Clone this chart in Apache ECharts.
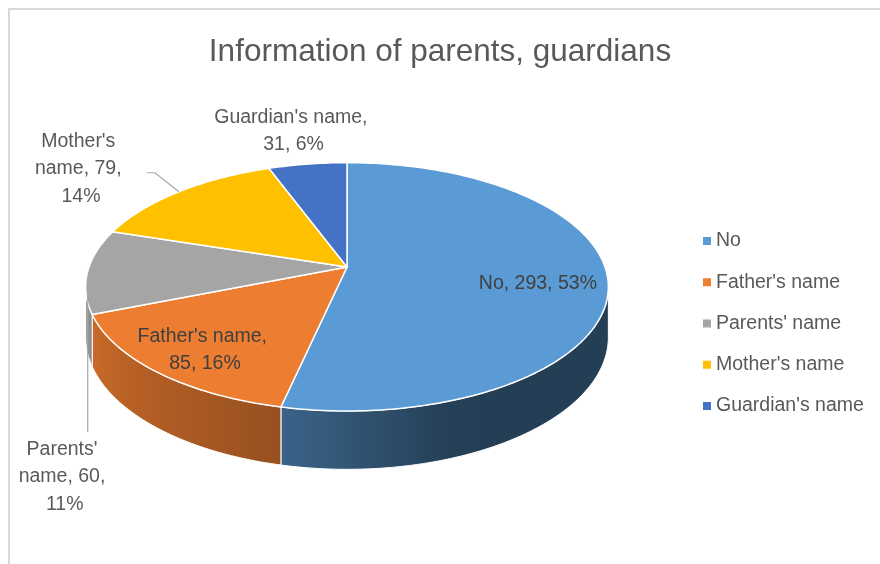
<!DOCTYPE html>
<html lang="en">
<head>
    <meta charset="UTF-8">
    <title>Information of parents, guardians</title>
    <style>
        html, body {
            margin: 0;
            padding: 0;
            background: #fff;
        }

        #main {
            width: 880px;
            height: 564px;
        }
    </style>
</head>
<body>
<div id="main"></div>
<script src="https://cdn.jsdelivr.net/npm/echarts@6/dist/echarts.min.js"></script>
<script>

    var names = ['No', "Father's name", "Parents' name", "Mother's name", "Guardian's name"];
    var values = [293, 85, 60, 79, 31];
    var colors = ['#5b9bd5', '#ed7d31', '#a5a5a5', '#ffc000', '#4472c4'];

    var FONT = '"Liberation Sans", Arial, sans-serif';

    // pie geometry (a tilted disk seen in perspective, like Excel's 3-D pie)
    var CX = 347, CY = 267;
    var RX = 258;      // horizontal radius
    var RY = 121;      // vertical radius
    var DIST = 6.26;   // camera distance in radii
    var DEPTH = 49;    // thickness of the disk
    var EDGE = Math.acos(-1 / DIST) * 180 / Math.PI; // where the side wall becomes visible

    // how much the side wall is darkened, by angle
    var shadeStops = [[0, 0.40], [160, 0.40], [192, 0.64], [248, 0.85], [270, 0.88], [360, 0.88]];

    // outside labels: where the text sits relative to the slice edge, and the leader line
    var outsideLabels = {
        2: {onWall: true, dx: -23, dy: 181, width: 100, leader: [[0, 0], [0, 136]]},
        3: {onWall: false, dx: -98, dy: -23, width: 100, leader: [[0, 0], [-24, -19], [-32, -19]]},
        4: {onWall: false, dx: -14, dy: -33, width: 165, leader: null}
    };

    var total = values.reduce(function (a, b) {
        return a + b;
    }, 0);
    var starts = [];
    var acc = 0;
    values.forEach(function (v) {
        starts.push(acc / total * 360);
        acc += v;
    });

    var proj = function (deg, r, down) {
        var t = deg * Math.PI / 180;
        var z = -r * Math.cos(t);
        var p = DIST / (DIST - z);
        return [CX + r * RX * Math.sin(t) * p, CY + RY * z * p + (down || 0) * p];
    };

    var shade = function (deg) {
        for (var i = 1; i < shadeStops.length; i++) {
            if (deg <= shadeStops[i][0]) {
                var a = shadeStops[i - 1], b = shadeStops[i];
                return a[1] + (b[1] - a[1]) * (deg - a[0]) / (b[0] - a[0]);
            }
        }
        return shadeStops[shadeStops.length - 1][1];
    };

    var darken = function (hex, f) {
        var c = echarts.color.parse(hex);
        return 'rgb(' + Math.round(c[0] * f) + ',' + Math.round(c[1] * f) + ',' + Math.round(c[2] * f) + ')';
    };

    var arc = function (a, b, r, down) {
        var pts = [];
        var n = Math.max(2, Math.ceil(b - a));
        for (var k = 0; k <= n; k++) {
            pts.push(proj(a + (b - a) * k / n, r, down));
        }
        return pts;
    };

    var makeRender = function (i) {
        return function (params, api) {
            var value = api.value(0);
            var a = starts[i];
            var b = a + value / total * 360;
            var color = colors[i];
            var children = [];

            // side wall, only the part that faces the viewer
            var wa = Math.max(a, EDGE), wb = Math.min(b, 360 - EDGE);
            if (wb > wa) {
                var topArc = arc(wa, wb, 1, 0);
                var botArc = arc(wa, wb, 1, DEPTH).reverse();
                var xs = topArc.map(function (p) {
                    return p[0];
                });
                var xMin = Math.min.apply(null, xs), xMax = Math.max.apply(null, xs);
                var stops = [];
                for (var k = 0; k <= 12; k++) {
                    var d = wa + (wb - wa) * k / 12;
                    var off = (proj(d, 1, 0)[0] - xMin) / (xMax - xMin || 1);
                    stops.push({offset: Math.min(1, Math.max(0, off)), color: darken(color, shade(d))});
                }
                stops.sort(function (s1, s2) {
                    return s1.offset - s2.offset;
                });
                children.push({
                    type: 'polygon',
                    z2: 1,
                    shape: {points: topArc.concat(botArc)},
                    style: {
                        fill: {type: 'linear', x: xMin, y: 0, x2: xMax, y2: 0, global: true, colorStops: stops},
                        stroke: '#ffffff',
                        lineWidth: 1
                    }
                });
            }

            // top face
            children.push({
                type: 'polygon',
                z2: 10,
                shape: {points: [[CX, CY]].concat(arc(a, b, 1, 0))},
                style: {fill: color, stroke: '#ffffff', lineWidth: 1.5, lineJoin: 'round'}
            });

            // data label
            var pct = Math.round(value / total * 100);
            var text = names[i] + ', ' + value + ', ' + pct + '%';
            var mid = (a + b) / 2;
            var out = outsideLabels[i];
            if (!out) {
                var c = proj(mid, 0.75, 0);
                children.push({
                    type: 'text',
                    z2: 30,
                    style: {
                        text: text, x: c[0] - 4, y: c[1] + 7, align: 'center', verticalAlign: 'middle',
                        width: 150, overflow: 'break', lineHeight: 27,
                        fill: '#404040', fontSize: 19.5, fontFamily: FONT
                    }
                });
            } else {
                var anchor = proj(mid, 1, out.onWall ? DEPTH / 2 : 0);
                children.push({
                    type: 'text',
                    z2: 30,
                    style: {
                        text: text, x: anchor[0] + out.dx, y: anchor[1] + out.dy,
                        align: 'center', verticalAlign: 'middle',
                        width: out.width, overflow: 'break', lineHeight: 27.5,
                        fill: '#595959', fontSize: 19.5, fontFamily: FONT
                    }
                });
                if (out.leader) {
                    children.push({
                        type: 'polyline',
                        z2: 25,
                        shape: {
                            points: out.leader.map(function (q) {
                                return [anchor[0] + q[0], anchor[1] + q[1]];
                            })
                        },
                        style: {stroke: '#a6a6a6', lineWidth: 1.2, fill: null}
                    });
                }
            }

            return {type: 'group', children: children};
        };
    };

    var series = names.map(function (name, i) {
        return {
            type: 'custom',
            name: name,
            coordinateSystem: 'none',
            silent: true,
            animation: false,
            itemStyle: {color: colors[i]},
            data: [[values[i]]],
            renderItem: makeRender(i)
        };
    });

    var option = {
        backgroundColor: '#ffffff',
        title: {
            text: 'Information of parents, guardians',
            left: 'center',
            top: 36,
            padding: 0,
            textStyle: {
                color: '#595959',
                fontSize: 31.5,
                fontWeight: 'normal',
                fontFamily: FONT
            }
        },
        legend: {
            orient: 'vertical',
            left: 703,
            top: 231,
            padding: 0,
            icon: 'rect',
            itemWidth: 8,
            itemHeight: 8,
            itemGap: 21.25,
            data: names,
            textStyle: {
                color: '#595959',
                fontSize: 19.5,
                lineHeight: 20,
                fontFamily: FONT
            }
        },
        graphic: [
            {
                type: 'rect',
                silent: true,
                shape: {x: 9, y: 9, width: 900, height: 600},
                style: {fill: null, stroke: '#d9d9d9', lineWidth: 2}
            }
        ],
        series: series
    };

    var myChart = echarts.init(document.getElementById('main'));
    myChart.setOption(option);
</script>
</body>
</html>
